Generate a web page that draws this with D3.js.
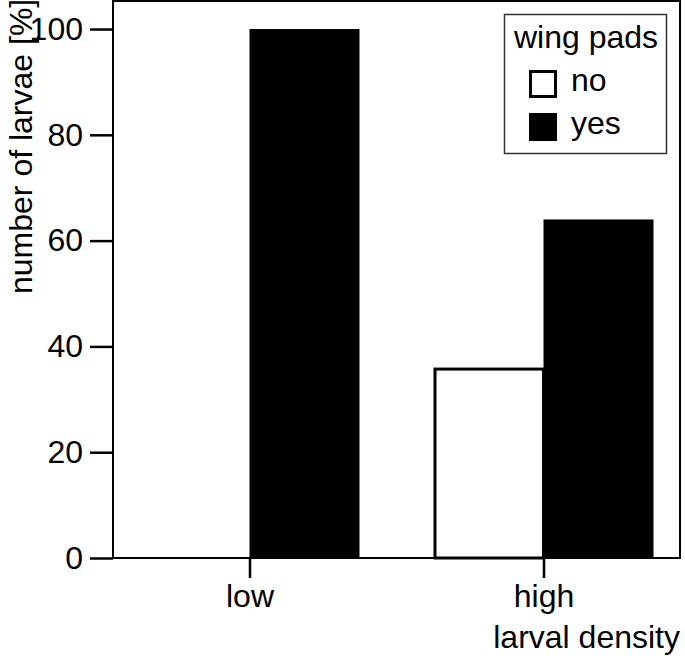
<!DOCTYPE html>
<html>
<head>
<meta charset="utf-8">
<script src="https://cdn.jsdelivr.net/npm/d3@7"></script>
<style>
  html, body { margin: 0; padding: 0; background: #fff; }
  svg { display: block; font-family: "Liberation Sans", Arial, Helvetica, sans-serif; }
</style>
</head>
<body>
<svg id="chart" width="685" height="659"></svg>
<script>
const categories = ["low", "high"];
const seriesNames = ["no", "yes"];
const valuesNo = [0, 36];
const valuesYes = [100, 64];
const yTicks = [0, 20, 40, 60, 80, 100];
const yTitle = "number of larvae [%]";
const xTitle = "larval density";
const legendTitle = "wing pads";

(function () {
const svg = d3.select("#chart");
const pLeft = 113, pRight = 680, pTop = 1, pBottom = 558;
const fontSize = 32;

const y = d3.scaleLinear().domain([0, 105.3]).range([pBottom, pTop]);
const x0 = d3.scaleBand().domain(categories).range([pLeft, pRight])
  .paddingInner(0.2517).paddingOuter(0.0901);
const x1 = d3.scaleBand().domain(seriesNames).range([0, x0.bandwidth()]);

const data = categories.map((c, i) => ({ cat: c, no: valuesNo[i], yes: valuesYes[i] }));
const flat = [];
data.forEach(d => seriesNames.forEach(s => flat.push({ cat: d.cat, series: s, value: d[s] })));

// bars
svg.append("g").selectAll("rect")
  .data(flat.filter(d => d.value > 0))
  .join("rect")
  .attr("x", d => x0(d.cat) + x1(d.series) + (d.series === "no" ? 1.5 : 0))
  .attr("y", d => y(d.value) + (d.series === "no" ? 1.5 : 0))
  .attr("width", d => x1.bandwidth() - (d.series === "no" ? 1.5 : 0))
  .attr("height", d => pBottom - y(d.value) - (d.series === "no" ? 1.5 : 0))
  .attr("fill", d => d.series === "no" ? "#fff" : "#000")
  .attr("stroke", d => d.series === "no" ? "#000" : "none")
  .attr("stroke-width", 3);

// frame
svg.append("rect")
  .attr("x", pLeft).attr("y", pTop)
  .attr("width", pRight - pLeft).attr("height", pBottom - pTop)
  .attr("fill", "none").attr("stroke", "#000").attr("stroke-width", 2);

// y axis
const yAxis = svg.append("g")
  .attr("transform", `translate(${pLeft},0)`)
  .call(d3.axisLeft(y).tickValues(yTicks).tickSize(23).tickPadding(7).tickFormat(d3.format("d")));
yAxis.select(".domain").remove();
yAxis.selectAll(".tick line").attr("stroke", "#000").attr("stroke-width", 2.5);
yAxis.selectAll(".tick text").attr("fill", "#000")
  .style("font-size", fontSize + "px").style("font-family", "'Liberation Sans', Arial, sans-serif");

// x axis
const xCenters = d3.scalePoint().domain(categories)
  .range([x0(categories[0]) + x0.bandwidth() / 2, x0(categories[1]) + x0.bandwidth() / 2]);
const xAxis = svg.append("g")
  .attr("transform", `translate(0,${pBottom})`)
  .call(d3.axisBottom(xCenters).tickSize(20).tickPadding(6));
xAxis.select(".domain").remove();
xAxis.selectAll(".tick line").attr("stroke", "#000").attr("stroke-width", 2.5);
xAxis.selectAll(".tick text").attr("fill", "#000")
  .style("font-size", fontSize + "px").style("font-family", "'Liberation Sans', Arial, sans-serif");

// axis titles
svg.append("text")
  .attr("transform", "translate(32,294) rotate(-90)")
  .attr("text-anchor", "start")
  .style("font-size", fontSize + "px")
  .text(yTitle);

svg.append("text")
  .attr("x", 680).attr("y", 648)
  .attr("text-anchor", "end")
  .style("font-size", fontSize + "px")
  .text(xTitle);

// legend
const lg = svg.append("g");
lg.append("rect")
  .attr("x", 504.5).attr("y", 14.5).attr("width", 162).attr("height", 139)
  .attr("fill", "#fff").attr("stroke", "#333").attr("stroke-width", 1.5);
lg.append("text").attr("x", 514).attr("y", 48)
  .style("font-size", fontSize + "px").text(legendTitle);
seriesNames.forEach((s, i) => {
  const yy = 70 + i * 43;
  if (s === "no") {
    lg.append("rect").attr("x", 530.5).attr("y", yy + 1.5).attr("width", 25).attr("height", 25)
      .attr("fill", "#fff").attr("stroke", "#000").attr("stroke-width", 3);
  } else {
    lg.append("rect").attr("x", 529).attr("y", yy).attr("width", 28).attr("height", 28)
      .attr("fill", "#000");
  }
  lg.append("text").attr("x", 571).attr("y", yy + 21)
    .style("font-size", fontSize + "px").text(s);
});
})();
</script>
</body>
</html>
